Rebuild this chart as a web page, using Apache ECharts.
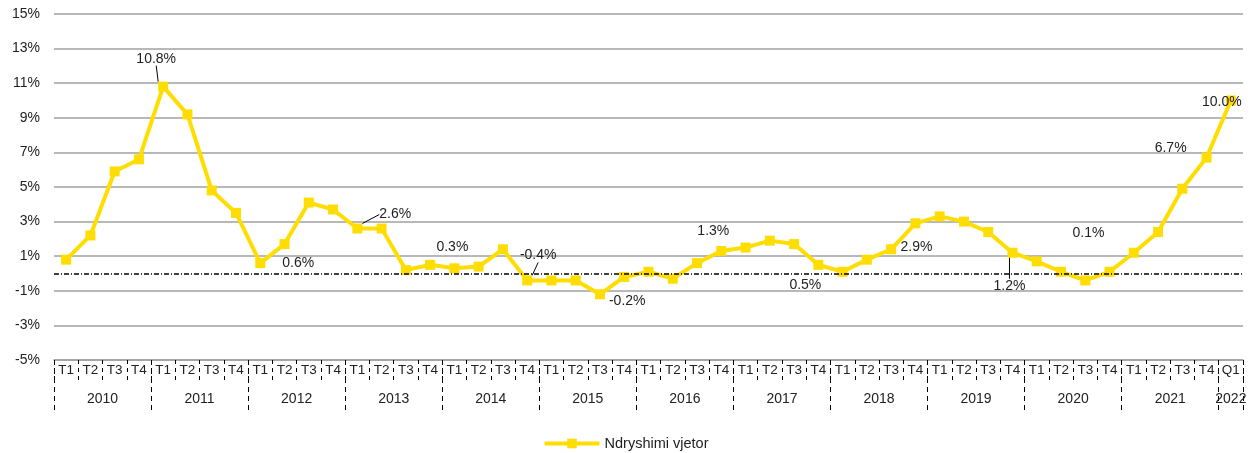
<!DOCTYPE html>
<html>
<head>
<meta charset="utf-8">
<script src="https://cdn.jsdelivr.net/npm/echarts@6/dist/echarts.min.js"></script>
<style>
    html, body { margin: 0; padding: 0; background: #fff; }
    #chartmain { width: 1251px; height: 453px; }
</style>
</head>
<body>
<div id="chartmain"></div>
<script>
var years = ['2010', '2011', '2012', '2013', '2014', '2015', '2016', '2017', '2018', '2019', '2020', '2021', '2022'];
var quarters = [
    'T1', 'T2', 'T3', 'T4', 'T1', 'T2', 'T3', 'T4', 'T1', 'T2', 'T3', 'T4',
    'T1', 'T2', 'T3', 'T4', 'T1', 'T2', 'T3', 'T4', 'T1', 'T2', 'T3', 'T4',
    'T1', 'T2', 'T3', 'T4', 'T1', 'T2', 'T3', 'T4', 'T1', 'T2', 'T3', 'T4',
    'T1', 'T2', 'T3', 'T4', 'T1', 'T2', 'T3', 'T4', 'T1', 'T2', 'T3', 'T4',
    'Q1'
];
var yearLength = [4, 4, 4, 4, 4, 4, 4, 4, 4, 4, 4, 4, 1];
var values = [
    0.8, 2.2, 5.9, 6.6, 10.8, 9.2, 4.8, 3.5, 0.6, 1.7, 4.1, 3.7,
    2.6, 2.6, 0.2, 0.5, 0.3, 0.4, 1.4, -0.4, -0.4, -0.4, -1.2, -0.2,
    0.1, -0.3, 0.6, 1.3, 1.5, 1.9, 1.7, 0.5, 0.1, 0.8, 1.4, 2.9,
    3.3, 3.0, 2.4, 1.2, 0.7, 0.1, -0.4, 0.1, 1.2, 2.4, 4.9, 6.7,
    10.0
];
var yTicks = [-5, -3, -1, 1, 3, 5, 7, 9, 11, 13, 15];
// which points carry a data label
var labelIndex = [4, 8, 12, 16, 19, 23, 27, 31, 35, 39, 43, 47, 48];

// label placement: [position, dx, dy, leader line]
var labelPos = {
    4: ['top', -7, -11, true],
    8: ['right', 12, 0, false],
    12: ['right', 12, -14, true],
    16: ['top', -2, -4, false],
    19: ['top', 11, -8, true],
    23: ['bottom', 3, 7, false],
    27: ['top', -8, -3, false],
    31: ['bottom', -13, 3, false],
    35: ['bottom', 1, 7, false],
    39: ['bottom', -3, 16, true],
    43: ['top', -21, -22, false],
    47: ['left', -10, -9, false],
    48: ['inside', -9, 2, false]
};

var yearMid = [], yearEdge = [0], pos = 0;
for (var k = 0; k < years.length; k++) {
    yearMid.push(pos + yearLength[k] / 2);
    pos += yearLength[k];
    yearEdge.push(pos);
}

var seriesData = [];
for (var i = 0; i < values.length; i++) {
    var item = { value: values[i] };
    if (labelIndex.indexOf(i) >= 0) {
        item.label = { show: true, position: labelPos[i][0], distance: 5 };
        item.labelLine = { show: labelPos[i][3] };
    }
    seriesData.push(item);
}

var textColor = '#222';
var option = {
    animation: false,
    textStyle: { fontFamily: 'Liberation Sans, Arial, sans-serif' },
    grid: { left: 54, right: 8, top: 14, bottom: 93 },
    legend: {
        top: 431,
        left: 'center',
        itemWidth: 55,
        itemHeight: 12,
        itemGap: 10,
        lineStyle: { width: 4 },
        textStyle: { color: textColor, fontSize: 14.5 },
        data: ['Ndryshimi vjetor']
    },
    xAxis: [
        {
            type: 'category',
            data: quarters,
            boundaryGap: true,
            position: 'bottom',
            axisLine: { onZero: false, lineStyle: { color: '#a0a0a0', width: 1.5 } },
            axisTick: { show: true, interval: 0, length: 20, lineStyle: { color: '#000', type: [4, 4] } },
            axisLabel: { interval: 0, margin: 3, color: textColor, fontSize: 13.5 },
            splitLine: { show: false }
        },
        {
            type: 'value',
            min: 0,
            max: quarters.length,
            position: 'bottom',
            axisLine: { show: false, onZero: false },
            axisTick: { show: true, length: 52, customValues: yearEdge, lineStyle: { color: '#000', type: [5, 4] } },
            axisLabel: {
                margin: 32, color: textColor, fontSize: 14,
                customValues: yearMid,
                formatter: function (v) {
                    return years[yearMid.indexOf(v)] || '';
                }
            },
            splitLine: { show: false }
        }
    ],
    yAxis: {
        type: 'value',
        min: -5,
        max: 15,
        interval: 2,
        axisLine: { show: false },
        axisTick: { show: false },
        axisLabel: {
            margin: 14, color: textColor, fontSize: 14,
            customValues: yTicks,
            formatter: '{value}%'
        },
        splitLine: { lineStyle: { color: '#a0a0a0', width: 1.5 } }
    },
    series: [
        {
            name: 'Ndryshimi vjetor',
            type: 'line',
            xAxisIndex: 0,
            data: seriesData,
            symbol: 'rect',
            symbolSize: 10,
            lineStyle: { color: '#FFDD00', width: 4 },
            itemStyle: { color: '#FFDD00' },
            label: {
                show: false,
                color: textColor,
                fontSize: 14,
                formatter: function (p) { return p.value.toFixed(1) + '%'; }
            },
            labelLine: { lineStyle: { color: '#000', width: 1 } },
            labelLayout: function (p) {
                var c = labelPos[p.dataIndex];
                if (!c) return {};
                return { dx: c[1], dy: c[2] };
            },
            markLine: {
                silent: true,
                symbol: 'none',
                label: { show: false },
                lineStyle: { color: '#000', type: [5, 2, 1, 2], width: 1.5 },
                data: [{ yAxis: 0 }]
            },
            z: 3
        }
    ]
};

var myChart = echarts.init(document.getElementById('chartmain'));
myChart.setOption(option);
</script>
</body>
</html>
